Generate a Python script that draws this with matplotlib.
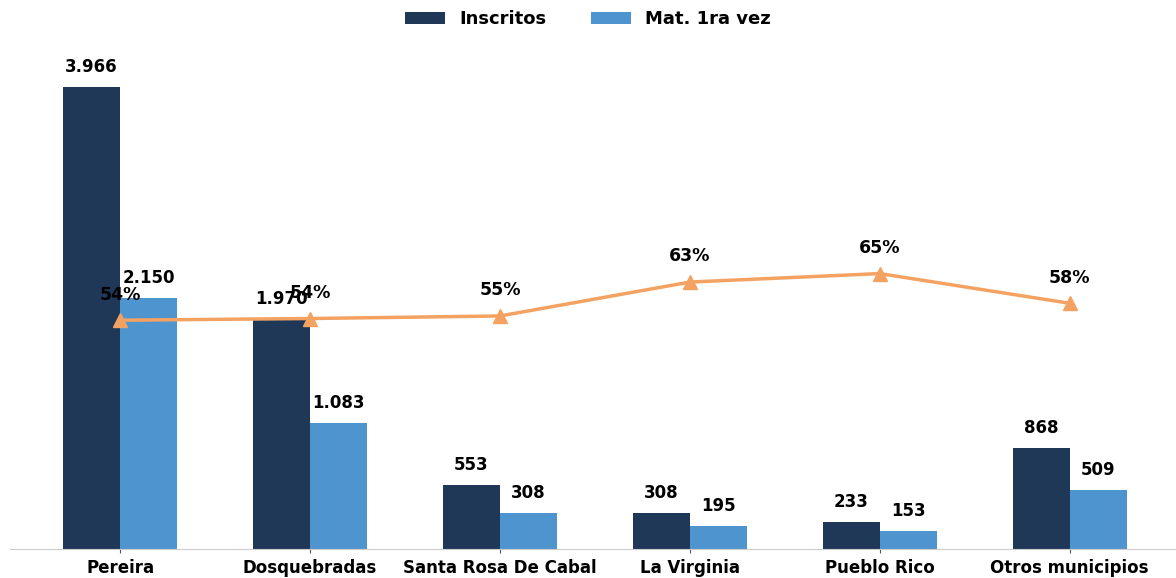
import numpy as np
import matplotlib.pyplot as plt

municipios = ['Pereira', 'Dosquebradas', 'Santa Rosa De Cabal',
              'La Virginia', 'Pueblo Rico', 'Otros municipios']
inscritos = [3966, 1970, 553, 308, 233, 868]
mat_1ra_vez = [2150, 1083, 308, 195, 153, 509]
tasa = [0.54, 0.544, 0.55, 0.63, 0.65, 0.58]

c_dark = '#1f3857'
c_light = '#4e94cf'
c_line = '#f4a261'


def fmt_miles(v):
    return f'{v:,}'.replace(',', '.')


fig = plt.figure(figsize=(11.76, 5.78), dpi=100)
ax = fig.add_axes([0.0085, 0.05, 0.9915, 0.88])
x = np.arange(len(municipios))
w = 0.3

b1 = ax.bar(x - w / 2, inscritos, w, color=c_dark, label='Inscritos')
b2 = ax.bar(x + w / 2, mat_1ra_vez, w, color=c_light, label='Mat. 1ra vez')
for bars in (b1, b2):
    for r in bars:
        ax.annotate(fmt_miles(int(r.get_height())),
                    (r.get_x() + r.get_width() / 2, r.get_height()),
                    xytext=(0, 8), textcoords='offset points',
                    ha='center', va='bottom', fontsize=12, fontweight='bold')

ax.set_ylim(0, max(inscritos) * 1.1)
ax.set_xlim(-0.58, 5.56)
ax.set_yticks([])
for s in ['top', 'right', 'left']:
    ax.spines[s].set_visible(False)
ax.spines['bottom'].set_color('#cccccc')
ax.set_xticks(x)
ax.set_xticklabels(municipios, fontsize=12, fontweight='bold')
ax.tick_params(axis='x', length=3, color='#555555', pad=4)

ax2 = ax.twinx()
ax2.plot(x, tasa, color=c_line, linewidth=2.5, marker='^', markersize=10)
for xi, t in zip(x, tasa):
    ax2.annotate(f'{t:.0%}', (xi, t), xytext=(0, 12), textcoords='offset points',
                 ha='center', va='bottom', fontsize=12.5, fontweight='bold')
ax2.set_ylim(0, 1.2)
ax2.set_yticks([])
for s in ['top', 'right', 'left', 'bottom']:
    ax2.spines[s].set_visible(False)

fig.legend(handles=[b1, b2], loc='upper center', ncol=2, frameon=False,
           bbox_to_anchor=(0.5, 1.01), prop={'size': 13, 'weight': 'bold'},
           handlelength=2.2, columnspacing=2.5)

fig.savefig('out.png', dpi=100)
